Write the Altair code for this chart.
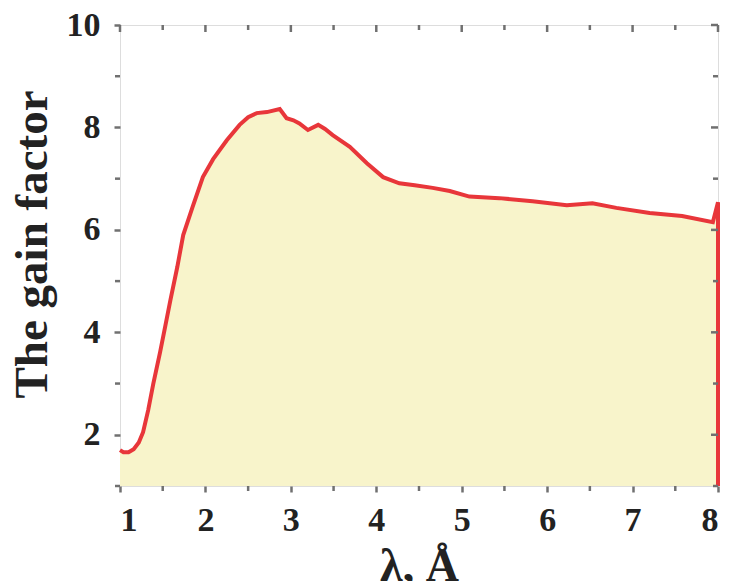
import altair as alt
import pandas as pd

# wavelength (Å) and gain factor
lam = [1.00, 1.04, 1.10, 1.16, 1.22, 1.27, 1.33, 1.39, 1.47, 1.53, 1.59, 1.67, 1.74,
       1.85, 1.97, 2.09, 2.25, 2.40, 2.50, 2.60, 2.72, 2.87, 2.95, 3.03, 3.10, 3.20,
       3.32, 3.40, 3.49, 3.69, 3.89, 4.08, 4.27, 4.45, 4.66, 4.86, 5.09, 5.44, 5.83,
       6.23, 6.53, 6.81, 7.20, 7.58, 7.94, 8.00, 8.00]
gain = [1.70, 1.66, 1.66, 1.72, 1.85, 2.05, 2.48, 3.00, 3.62, 4.12, 4.63, 5.27, 5.90,
        6.45, 7.03, 7.38, 7.75, 8.05, 8.20, 8.28, 8.30, 8.36, 8.18, 8.14, 8.08, 7.95,
        8.05, 7.97, 7.85, 7.62, 7.30, 7.03, 6.91, 6.87, 6.82, 6.76, 6.65, 6.62, 6.56,
        6.48, 6.52, 6.43, 6.33, 6.27, 6.15, 6.54, 1.00]

x_major = [1, 2, 3, 4, 5, 6, 7, 8]
x_minor = [1.5, 2.5, 3.5, 4.5, 5.5, 6.5, 7.5]
y_major = [2, 4, 6, 8, 10]
y_minor = [1, 3, 5, 7, 9]
x_lo, x_hi = 1, 8
y_lo, y_hi = 1, 10

df = pd.DataFrame({"lam": lam, "gain": gain, "i": list(range(len(lam)))})
df["base"] = y_lo

W, H = 598, 461
FONT = "Liberation Serif"
AX = "#707070"
TW = 2.5

xs = alt.Scale(domain=[x_lo, x_hi], nice=False, zero=False)
ys = alt.Scale(domain=[y_lo, y_hi], nice=False, zero=False)

area = alt.Chart(df).mark_area(fill="#f8f4cb", opacity=1, stroke=None).encode(
    x=alt.X("lam:Q", scale=xs, axis=alt.Axis(
        orient="bottom", values=x_major, tickSize=6, format="d", domain=False,
        grid=False, tickColor=AX, tickWidth=TW,
        labelFont=FONT, labelFontSize=34, labelFontWeight="bold", labelColor="#222",
        labelPadding=11, title="λ, Å", titleFont=FONT, titleFontSize=46,
        titleFontWeight="bold", titleColor="#222", titleBaseline="alphabetic",
        titleY=94)),
    y=alt.Y("gain:Q", scale=ys, axis=alt.Axis(
        orient="left", values=y_major, tickSize=6, format="d", domain=False,
        grid=False, tickColor=AX, tickWidth=TW,
        labelFont=FONT, labelFontSize=34, labelFontWeight="bold", labelColor="#222",
        labelPadding=14, title="The gain factor", titleFont=FONT, titleFontSize=47,
        titleFontWeight="bold", titleColor="#222", titleBaseline="alphabetic",
        titleX=-74, titleY=219, titleAngle=-90)),
    y2="base:Q",
)

line = alt.Chart(df).mark_line(color="#e8363a", strokeWidth=4).encode(
    x=alt.X("lam:Q", scale=xs),
    y=alt.Y("gain:Q", scale=ys),
    order="i:Q",
)

xt = pd.DataFrame({"v": x_major + x_minor,
                   "kind": ["major"] * len(x_major) + ["minor"] * len(x_minor)})
yt = pd.DataFrame({"v": y_major + y_minor,
                   "kind": ["major"] * len(y_major) + ["minor"] * len(y_minor)})


def xticks(kind, at, size, off):
    return alt.Chart(xt).transform_filter(alt.datum.kind == kind).mark_tick(
        orient="vertical", size=size, thickness=TW, color=AX, opacity=1
    ).encode(x=alt.X("v:Q", scale=xs), y=alt.datum(at), yOffset=alt.value(off))


def yticks(kind, at, size, off):
    return alt.Chart(yt).transform_filter(alt.datum.kind == kind).mark_tick(
        orient="horizontal", size=size, thickness=TW, color=AX, opacity=1
    ).encode(y=alt.Y("v:Q", scale=ys), x=alt.datum(at), xOffset=alt.value(off))


ticks = [
    xticks("minor", y_lo, 5, 2.5),     # bottom minor, outward
    xticks("major", y_hi, 7, 3.5),     # top major, inward
    xticks("minor", y_hi, 5, 2.5),     # top minor, inward
    yticks("minor", x_lo, 5, -2.5),    # left minor, outward
    yticks("major", x_hi, 7, -3.5),    # right major, inward
    yticks("minor", x_hi, 5, -2.5),    # right minor, inward
]

chart = alt.layer(area, line, *ticks).properties(
    width=W, height=H,
    autosize=alt.AutoSizeParams(type="none"),
    padding={"left": 120, "top": 25, "right": 12, "bottom": 95},
).configure_view(stroke=AX, strokeWidth=TW).configure(background="white")

chart.save("out.html", embed_options={"renderer": "svg", "actions": False})
